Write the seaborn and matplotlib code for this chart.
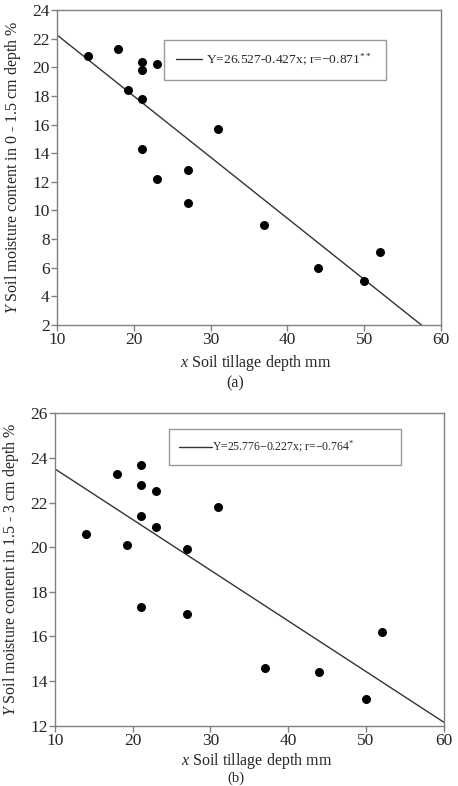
import matplotlib
matplotlib.use('Agg')
import matplotlib.pyplot as plt
import numpy as np
import pandas as pd
import seaborn as sns

# panel (a): 0 - 1.5 cm
depth_a = [14, 18, 21, 21, 23, 19.2, 21, 31, 21, 27, 23, 27, 37, 44, 50, 52]
moist_a = [20.8, 21.3, 20.4, 19.8, 20.2, 18.4, 17.8, 15.7, 14.3, 12.8, 12.2, 10.5, 9.0, 6.0, 5.1, 7.1]
coef_a = (26.527, -0.427)
label_a = r'Y=26.527-0.427x; r=$-$0.871$^{**}$'

# panel (b): 1.5 - 3 cm
depth_b = [14, 18, 21, 21, 23, 21, 23, 19.3, 31, 27, 21, 27, 37, 44, 50, 52]
moist_b = [20.6, 23.3, 23.7, 22.8, 22.5, 21.4, 20.9, 20.1, 21.8, 19.9, 17.3, 17.0, 14.6, 14.4, 13.2, 16.2]
coef_b = (25.776, -0.227)
label_b = r'Y=25.776$-$0.227x; r=$-$0.764$^{*}$'

sns.set_style('white')
plt.rcParams['font.family'] = ['Liberation Serif', 'DejaVu Serif']
plt.rcParams['mathtext.fontset'] = 'custom'
plt.rcParams['mathtext.rm'] = 'Liberation Serif'
plt.rcParams['mathtext.it'] = 'Liberation Serif:italic'

GRAY = '#808080'

fig = plt.figure(figsize=(4.58, 7.86), dpi=100)
ax1 = fig.add_axes([0.1245, 0.5865, 0.8385, 0.4008])
ax2 = fig.add_axes([0.120, 0.0767, 0.849, 0.3975])


def draw(ax, xs, ys, coef, label, ylim, yticks, ylabel, tag, legbox, legfont,
         hlen, hpad, bpad, xl_off, tag_off, tag_va, tag_size):
    df = pd.DataFrame({'x': xs, 'y': ys})
    sns.scatterplot(data=df, x='x', y='y', ax=ax, color='black', s=42,
                    edgecolor='black', linewidth=0, zorder=3)
    xl = np.array([10, 60])
    fit = pd.DataFrame({'x': xl, 'y': coef[0] + coef[1] * xl})
    sns.lineplot(data=fit, x='x', y='y', ax=ax, color='#333333', linewidth=1.0,
                 label=label)
    ax.set_xlim(10, 60)
    ax.set_ylim(*ylim)
    ax.set_xticks(range(10, 61, 10))
    ax.set_yticks(yticks)
    for s in ax.spines.values():
        s.set_color(GRAY)
        s.set_linewidth(1.0)
    ax.tick_params(direction='out', length=4.3, width=1, color=GRAY,
                   labelsize=12.5, left=True, bottom=True, pad=1)
    h = ax.get_position().height * 786
    w = ax.get_position().width * 458
    ax.set_xlabel(r'$\it{x}$ Soil tillage depth mm', fontsize=11.5)
    ax.xaxis.set_label_coords(0.518, -xl_off / h)
    ax.xaxis.label.set_va('center')
    ax.set_ylabel(ylabel, fontsize=11.5)
    ax.yaxis.set_label_coords(-34 / w, 0.5)
    leg = ax.legend(loc='upper left', bbox_to_anchor=legbox, mode='expand',
                    fontsize=legfont, frameon=True, fancybox=False,
                    handlelength=hlen, borderpad=bpad, handletextpad=hpad,
                    borderaxespad=0)
    leg.get_frame().set_edgecolor(GRAY)
    leg.get_frame().set_linewidth(1.0)
    ax.text(0.465, -tag_off / h, tag, transform=ax.transAxes,
            ha='center', va=tag_va, fontsize=tag_size)


draw(ax1, depth_a, moist_a, coef_a, label_a, (2, 24), range(2, 25, 2),
     r'$\it{Y}$ Soil moisture content in 0 - 1.5 cm depth %', '(a)',
     (0.2786, 0.7048, 0.578, 0.2), 9.7, 1.95, 0.3, 0.87, 38, 58, 'center', 11.5)
draw(ax2, depth_b, moist_b, coef_b, label_b, (12, 26), range(12, 27, 2),
     r'$\it{Y}$ Soil moisture content in 1.5 - 3 cm depth %', '(b)',
     (0.2938, 0.7488, 0.595, 0.2), 8.5, 2.8, 0.0, 0.85, 35, 59.5, 'bottom', 10.5)

fig.savefig('out.png', dpi=100)
